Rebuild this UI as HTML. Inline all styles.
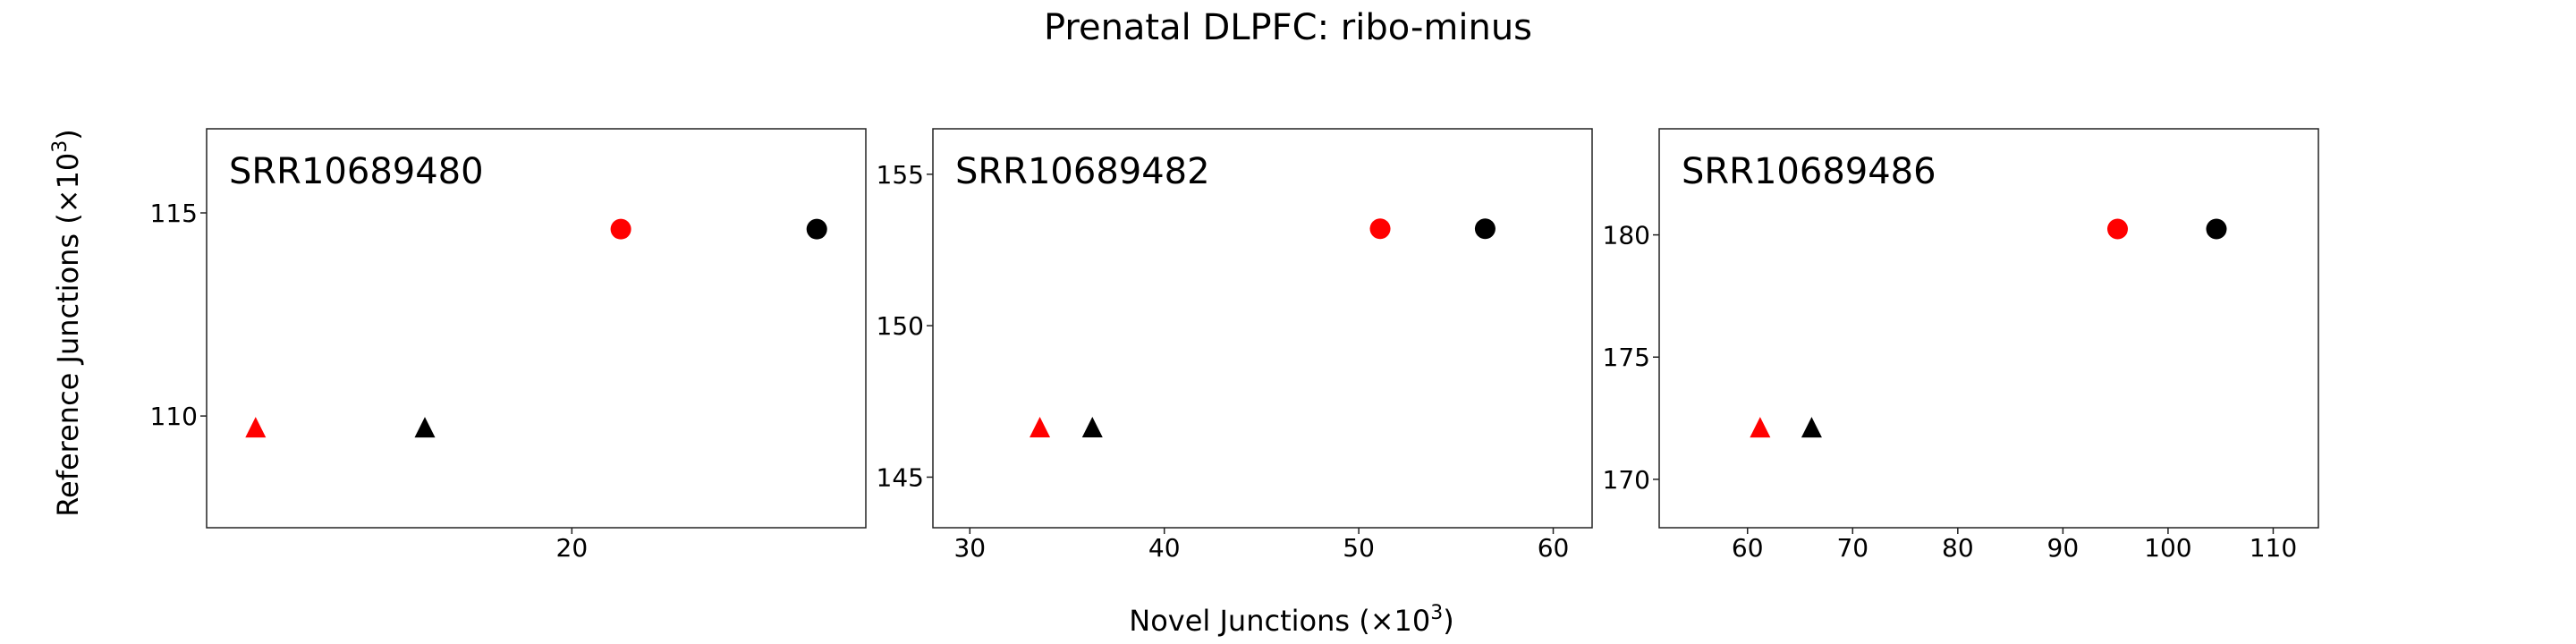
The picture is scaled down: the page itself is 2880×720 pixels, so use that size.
<!DOCTYPE html>
<html><head><meta charset="utf-8"><style>
html,body{margin:0;padding:0;background:#fff;}
svg{display:block;font-family:"DejaVu Sans","Liberation Sans",sans-serif;}
</style></head><body>
<svg id="chart" width="2880" height="720" viewBox="0 0 2880 720" xmlns="http://www.w3.org/2000/svg">
<text x="1440" y="44" font-size="40" text-anchor="middle">Prenatal DLPFC: ribo-minus</text>
<text x="1444" y="705" font-size="32" text-anchor="middle">Novel Junctions (×10<tspan dy="-13" font-size="22">3</tspan><tspan dy="13">)</tspan></text>
<text transform="translate(87,361) rotate(-90)" font-size="32" text-anchor="middle">Reference Junctions (×10<tspan dy="-13" font-size="22">3</tspan><tspan dy="13">)</tspan></text>
<g id="panels"></g>
</svg>
<script>
const sampleNames = ["SRR10689480", "SRR10689482", "SRR10689486"];
const redTriX = [12.9, 33.6, 61.2];
const blackTriX = [16.7, 36.3, 66.1];
const redCircX = [21.1, 51.1, 95.2];
const blackCircX = [25.5, 56.5, 104.6];
const triY = [109.67, 146.58, 172.04];
const circY = [114.6, 153.2, 180.24];
const xDomains = [[11.8, 26.6], [28.1, 62.0], [51.6, 114.3]];
const yDomains = [[107.25, 117.07], [143.33, 156.5], [168.02, 184.34]];
const xTicks = [[20], [30, 40, 50, 60], [60, 70, 80, 90, 100, 110]];
const yTicks = [[110, 115], [145, 150, 155], [170, 175, 180]];

const NS = "http://www.w3.org/2000/svg";
const lefts = [231, 1043, 1855];
const W = 737, TOP = 144, BOT = 590;
const root = document.getElementById('panels');
function mk(tag, attrs, parent) {
  const e = document.createElementNS(NS, tag);
  for (const k in attrs) e.setAttribute(k, attrs[k]);
  parent.appendChild(e);
  return e;
}
sampleNames.forEach((name, i) => {
  const L = lefts[i];
  const xs = v => L + (v - xDomains[i][0]) / (xDomains[i][1] - xDomains[i][0]) * W;
  const ys = v => BOT - (v - yDomains[i][0]) / (yDomains[i][1] - yDomains[i][0]) * (BOT - TOP);
  const g = mk('g', {}, root);
  
  
  const frame = mk('rect', {x: L, y: TOP, width: W, height: BOT - TOP, fill: 'none', stroke: '#222', 'stroke-width': 1.5}, g);
  
  
  const lab = mk('text', {x: L + 25, y: 205, 'font-size': 40}, g);
  lab.textContent = name;
  
  
  xTicks[i].forEach(t => {
    const x = xs(t);
    const tk = mk('line', {x1: x, x2: x, y1: BOT, y2: BOT + 7, stroke: '#222', 'stroke-width': 1.5}, g);
    
    
    const tl = mk('text', {x: x, y: 622, 'font-size': 28, 'text-anchor': 'middle'}, g);
    tl.textContent = t;
    
    
  });
  yTicks[i].forEach(t => {
    const y = ys(t);
    const tk = mk('line', {x1: L - 7, x2: L, y1: y, y2: y, stroke: '#222', 'stroke-width': 1.5}, g);
    
    
    const tl = mk('text', {x: L - 10, y: y + 10, 'font-size': 28, 'text-anchor': 'end'}, g);
    tl.textContent = t;
    
    
  });
  const tri = (vx, vy, col, nm) => {
    const cx = xs(vx), cy = ys(vy);
    const p = mk('polygon', {points: `${cx},${cy-14} ${cx-11.5},${cy+9} ${cx+11.5},${cy+9}`, fill: col}, g);
    
    
  };
  const circ = (vx, vy, col, nm) => {
    const c = mk('circle', {cx: xs(vx), cy: ys(vy), r: 11.5, fill: col}, g);
    
    
  };
  tri(redTriX[i], triY[i], '#ff0000', 'red-triangle-point');
  tri(blackTriX[i], triY[i], '#000000', 'black-triangle-point');
  circ(redCircX[i], circY[i], '#ff0000', 'red-circle-point');
  circ(blackCircX[i], circY[i], '#000000', 'black-circle-point');
});
</script>
</body></html>
